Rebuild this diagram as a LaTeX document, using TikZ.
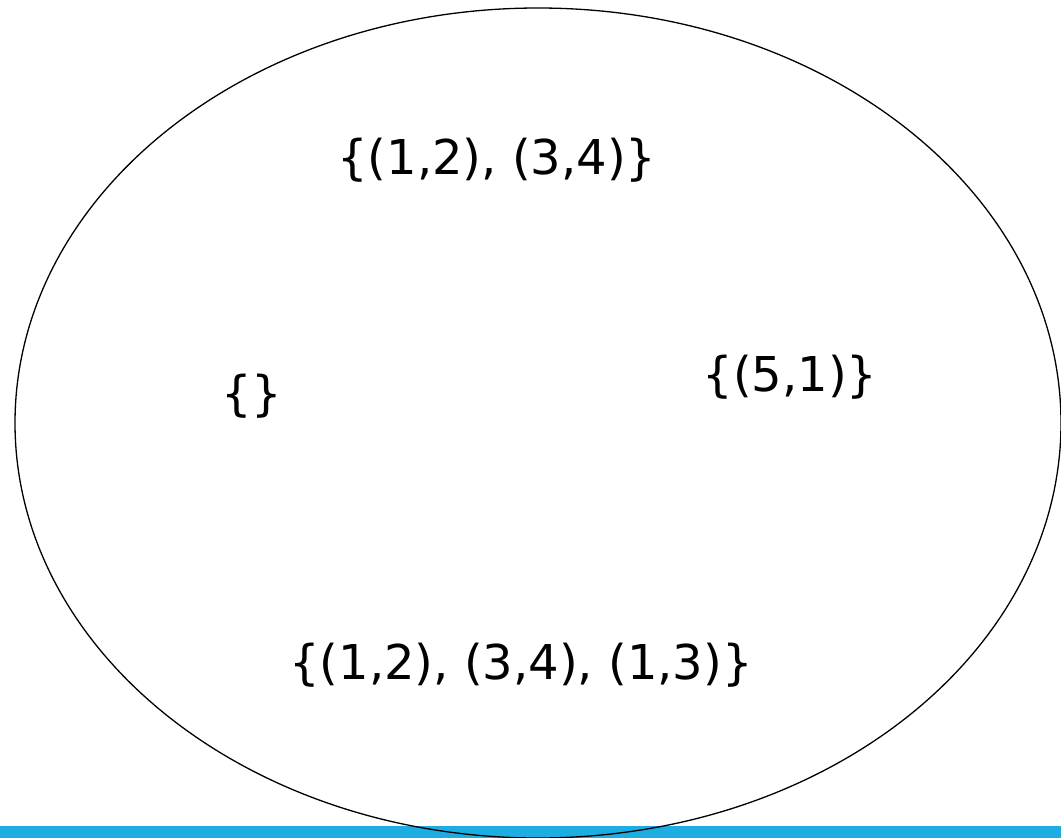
\documentclass[tikz,border=0pt]{standalone}
\usepackage{fontspec}
\setmainfont{DejaVu Sans}
\definecolor{barblue}{HTML}{1EADE2}
\tikzset{setlabel/.style={font=\fontsize{48}{56}\selectfont, inner sep=0pt}}
\begin{document}
\begin{tikzpicture}[x=1pt,y=-1pt]
\useasboundingbox (0,0) rectangle (1061,838);
\fill[barblue] (0,826) rectangle (1061,838);
\draw[line width=1.3pt] (538,423) ellipse (523 and 415);

\node[setlabel] (pairs) at (497,160) {\{(1,2), (3,4)\}};
\node[setlabel] (empty) at (252,396) {\{\}};
\node[setlabel] (single) at (790,377) {\{(5,1)\}};
\node[setlabel] (triple) at (521,665) {\{(1,2), (3,4), (1,3)\}};
\end{tikzpicture}
\end{document}
